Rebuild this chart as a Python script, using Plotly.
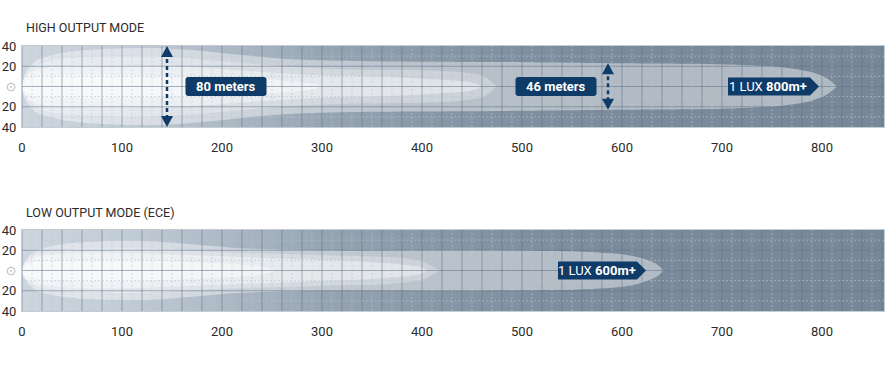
import plotly.graph_objects as go

# ---------------- data ----------------
modes = ["HIGH OUTPUT MODE", "LOW OUTPUT MODE (ECE)"]

# beam contours: distance (m) and half-width (m) for each light layer
high_outer_x = [0, 5, 15, 40, 80, 130, 170, 220, 270, 350, 500, 600, 700, 760, 790, 805, 815]
high_outer_w = [0, 16, 26, 33, 37, 38, 36, 31, 27, 25, 24, 23, 22, 19, 14, 8, 0]
high_mid_x = [0, 5, 15, 40, 100, 150, 200, 260, 320, 400, 440, 462, 475]
high_mid_w = [0, 13, 21, 27, 30, 29, 25, 20, 17, 16, 14, 10, 0]
high_inner_x = [0, 3, 12, 40, 100, 170, 230, 300, 380, 430, 450, 460]
high_inner_w = [0, 9, 16, 20, 21, 19, 15, 11, 9, 6, 4, 0]
high_core_x = [0, 3, 10, 40, 100, 200, 260, 290, 300]
high_core_w = [0, 5, 9, 11, 11, 9, 6, 3, 0]

low_outer_x = [0, 5, 15, 40, 80, 130, 170, 220, 300, 450, 550, 600, 620, 635, 642]
low_outer_w = [0, 12, 20, 26, 29, 29, 26, 22, 20, 20, 19, 16, 12, 6, 0]
low_mid_x = [0, 5, 15, 50, 120, 200, 300, 370, 400, 418]
low_mid_w = [0, 10, 16, 21, 22, 18, 15, 13, 9, 0]
low_inner_x = [0, 3, 12, 50, 120, 200, 280, 340, 380, 400, 405]
low_inner_w = [0, 8, 13, 17, 17, 14, 11, 9, 6, 3, 0]
low_core_x = [0, 3, 10, 50, 120, 200, 240, 255]
low_core_w = [0, 5, 8, 10, 10, 7, 4, 0]

# beam width markers (high mode)
width_at_m = [145, 586]
width_m = [80, 46]
width_labels = ["80 meters", "46 meters"]

# 1 lux reach labels
lux_reach = [800, 600]
lux_labels = ["1 LUX <b>800m+</b>", "1 LUX <b>600m+</b>"]

x_ticks = [0, 100, 200, 300, 400, 500, 600, 700, 800]
y_ticks = [-40, -20, 0, 20, 40]
y_ticktext = ["40", "20", '<span style="color:#b3bcc5">⊙</span>', "20", "40"]

# ---------------- style ----------------
NAVY = "#0f3b68"
TXT = "#2b2b2b"
FONT = "Roboto, 'DejaVu Sans', sans-serif"
XMAX = 862
bg_x = [0, 100, 200, 300, 400, 500, 600, XMAX]
bg_colors = ["#cdd6df", "#c3cdd7", "#adb9c5", "#97a5b3", "#8a99a8", "#8190a0", "#7b8b9b", "#778797"]
layer_alpha = [0.42, 0.27, 0.40, 0.45]

fig = go.Figure()

beams = [
    [(high_outer_x, high_outer_w), (high_mid_x, high_mid_w), (high_inner_x, high_inner_w), (high_core_x, high_core_w)],
    [(low_outer_x, low_outer_w), (low_mid_x, low_mid_w), (low_inner_x, low_inner_w), (low_core_x, low_core_w)],
]

for i, layers in enumerate(beams):
    xa = "x" if i == 0 else "x2"
    ya = "y" if i == 0 else "y2"
    # background gradient
    fig.add_trace(go.Heatmap(
        x=bg_x, y=[-40, 40], z=[bg_x, bg_x], zmin=0, zmax=XMAX,
        colorscale=[[v / XMAX, c] for v, c in zip(bg_x, bg_colors)],
        zsmooth="best", showscale=False, hoverinfo="skip", xaxis=xa, yaxis=ya))
    # beam layers
    for (bx, bw), a in zip(layers, layer_alpha):
        fig.add_trace(go.Scatter(
            x=bx + bx[::-1], y=bw + [-w for w in bw[::-1]],
            fill="toself", fillcolor=f"rgba(255,255,255,{a})",
            mode="lines", line=dict(width=0, shape="spline", smoothing=0.8),
            hoverinfo="skip", showlegend=False, xaxis=xa, yaxis=ya))
    # grid (drawn above the beam)
    sx, sy = [], []
    for v in range(0, XMAX, 20):
        sx += [v, v, None]; sy += [-40, 40, None]
    for v in (-20, 0, 20):
        sx += [0, XMAX, None]; sy += [v, v, None]
    fig.add_trace(go.Scatter(x=sx, y=sy, mode="lines",
                             line=dict(color="rgba(95,115,135,0.55)", width=1),
                             hoverinfo="skip", showlegend=False, xaxis=xa, yaxis=ya))
    dx, dy = [], []
    for v in range(10, XMAX, 20):
        dx += [v, v, None]; dy += [-40, 40, None]
    for v in (-30, -10, 10, 30):
        dx += [0, XMAX, None]; dy += [v, v, None]
    fig.add_trace(go.Scatter(x=dx, y=dy, mode="lines",
                             line=dict(color="rgba(185,196,207,0.6)", width=1, dash="2px,2px"),
                             hoverinfo="skip", showlegend=False, xaxis=xa, yaxis=ya))

shapes = []
annotations = []

# width arrows (high mode)
for k, (ax, wm, lab) in enumerate(zip(width_at_m, width_m, width_labels)):
    hw = wm / 2
    fig.add_trace(go.Scatter(x=[ax, ax], y=[hw - 6, -hw + 6], mode="lines",
                             line=dict(color=NAVY, width=2.5, dash="4px,3px"),
                             hoverinfo="skip", showlegend=False, xaxis="x", yaxis="y"))
    shapes.append(dict(type="path", xref="x", yref="y", xsizemode="pixel", ysizemode="pixel",
                       xanchor=ax, yanchor=hw, path="M 0,0 L -6,-11 L 6,-11 Z",
                       fillcolor=NAVY, line=dict(width=0), layer="above"))
    shapes.append(dict(type="path", xref="x", yref="y", xsizemode="pixel", ysizemode="pixel",
                       xanchor=ax, yanchor=-hw, path="M 0,0 L -6,11 L 6,11 Z",
                       fillcolor=NAVY, line=dict(width=0), layer="above"))
    off = 59 if k == 0 else -52
    w2, h2, r = 40.5, 9.5, 3
    x0, x1 = off - w2, off + w2
    path = (f"M {x0+r},{-h2} L {x1-r},{-h2} Q {x1},{-h2} {x1},{-h2+r} L {x1},{h2-r} "
            f"Q {x1},{h2} {x1-r},{h2} L {x0+r},{h2} Q {x0},{h2} {x0},{h2-r} "
            f"L {x0},{-h2+r} Q {x0},{-h2} {x0+r},{-h2} Z")
    shapes.append(dict(type="path", xref="x", yref="y", xsizemode="pixel", ysizemode="pixel",
                       xanchor=ax, yanchor=0, path=path, fillcolor=NAVY,
                       line=dict(width=0), layer="above"))
    annotations.append(dict(x=ax, y=0, xref="x", yref="y", xshift=off, text=f"<b>{lab}</b>",
                            showarrow=False, xanchor="center", yanchor="middle",
                            font=dict(family=FONT, size=13, color="white")))

# 1 LUX labels
beam_end = [high_outer_x[-1], low_outer_x[-1]]
for i, (reach, lab, end) in enumerate(zip(lux_reach, lux_labels, beam_end)):
    xa = "x" if i == 0 else "x2"
    ya = "y" if i == 0 else "y2"
    tip = end - 18
    wlab = 91 if i == 0 else 88
    shapes.append(dict(type="path", xref=xa, yref=ya, xsizemode="pixel", ysizemode="pixel",
                       xanchor=tip, yanchor=0,
                       path=f"M 0,0 L -9,9 L {-wlab},9 L {-wlab},-9 L -9,-9 Z",
                       fillcolor=NAVY, line=dict(width=0), layer="above"))
    annotations.append(dict(x=tip, y=0, xref=xa, yref=ya, xshift=-(wlab + 9) / 2 - 1,
                            text=lab, showarrow=False, xanchor="center", yanchor="middle",
                            font=dict(family=FONT, size=13, color="white")))

# mode titles
for title, yp in zip(modes, [1 - 28 / 375, 1 - 212 / 375]):
    annotations.append(dict(x=0, y=yp, xref="paper", yref="paper", xshift=2, text=title,
                            showarrow=False, xanchor="left", yanchor="middle",
                            font=dict(family=FONT, size=12.5, color=TXT)))

axis_common = dict(showgrid=False, zeroline=False, showline=True, mirror=True,
                   linecolor="#c3cbd3", linewidth=1, automargin=False,
                   tickfont=dict(family=FONT, size=13, color=TXT), fixedrange=True)

fig.update_layout(
    width=890, height=375,
    margin=dict(l=22, r=6, t=0, b=0, autoexpand=False),
    paper_bgcolor="white", plot_bgcolor="white",
    showlegend=False,
    shapes=shapes, annotations=annotations,
    xaxis=dict(domain=[0, 1], range=[0, XMAX], anchor="y", tickvals=x_ticks,
               ticks="outside", ticklen=8, tickcolor="rgba(0,0,0,0)", **axis_common),
    yaxis=dict(domain=[1 - 127 / 375, 1 - 46 / 375], range=[-40, 40], anchor="x",
               tickvals=y_ticks, ticktext=y_ticktext,
               ticks="outside", ticklen=2, tickcolor="rgba(0,0,0,0)", **axis_common),
    xaxis2=dict(domain=[0, 1], range=[0, XMAX], anchor="y2", tickvals=x_ticks,
                ticks="outside", ticklen=8, tickcolor="rgba(0,0,0,0)", **axis_common),
    yaxis2=dict(domain=[1 - 311 / 375, 1 - 230 / 375], range=[-40, 40], anchor="x2",
                tickvals=y_ticks, ticktext=y_ticktext,
                ticks="outside", ticklen=2, tickcolor="rgba(0,0,0,0)", **axis_common),
)

fig.write_html("out.html", config={"displayModeBar": False},
               post_script="document.body.style.margin='0';document.body.style.overflow='hidden';")
